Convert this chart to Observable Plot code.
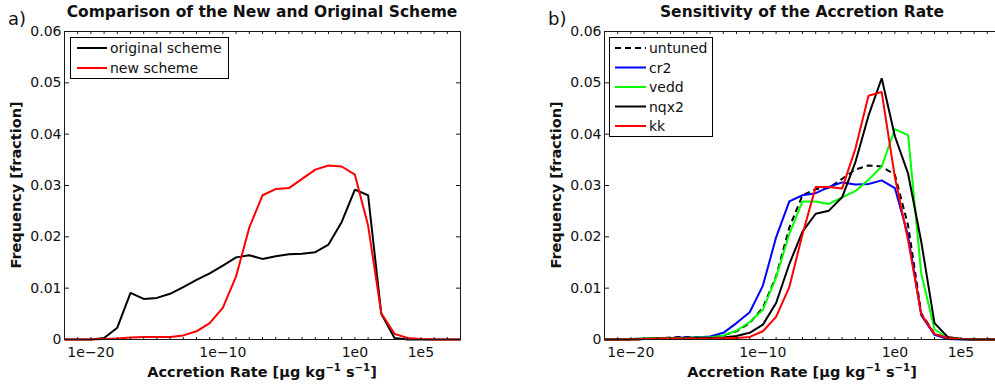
<!DOCTYPE html>
<html>
<head>
<meta charset="utf-8">
<script src="https://cdn.jsdelivr.net/npm/d3@7"></script>
<script src="https://cdn.jsdelivr.net/npm/@observablehq/plot@0.6"></script>
<style>
html, body { margin: 0; padding: 0; overflow: hidden; background: #fff; width: 995px; height: 387px; }
#root { position: relative; width: 995px; height: 387px; overflow: hidden; font-family: "DejaVu Sans", sans-serif; color: #111; }
.panel { position: absolute; top: 0; height: 387px; }
.txt { position: absolute; left: 0; top: 0; white-space: nowrap; line-height: 1; transform-origin: 0 0; }
.bold { font-weight: bold; }
sup { font-size: 70%; vertical-align: 0; position: relative; top: -0.55em; line-height: 0; }
</style>
</head>
<body>
<div id="root"></div>
<script>
// ---- data ----
const decades = [-22, -21, -20, -19, -18, -17, -16, -15, -14, -13, -12, -11, -10, -9, -8, -7, -6, -5, -4, -3, -2, -1, 0, 1, 2, 3, 4, 5, 6, 7, 8];

const originalScheme = [0, 0, 0, 0.0003, 0.0023, 0.0091, 0.0079, 0.0081, 0.0089, 0.0102, 0.0116, 0.0129, 0.0144, 0.0160, 0.0164, 0.0157, 0.0162, 0.0166, 0.0167, 0.0170, 0.0185, 0.0229, 0.0292, 0.0281, 0.0050, 0.0003, 0, 0, 0, 0, 0];
const newScheme = [0, 0, 0, 0.0001, 0.0002, 0.0004, 0.0005, 0.0005, 0.0005, 0.0008, 0.0016, 0.0032, 0.0062, 0.0123, 0.0218, 0.0281, 0.0293, 0.0295, 0.0313, 0.0331, 0.0339, 0.0337, 0.0321, 0.0222, 0.0051, 0.0011, 0.0003, 0.0001, 0, 0, 0];

const untuned = [0, 0, 0, 0.0001, 0.0002, 0.0004, 0.0005, 0.0005, 0.0005, 0.0008, 0.0016, 0.0032, 0.0062, 0.0123, 0.0218, 0.0281, 0.0293, 0.0295, 0.0313, 0.0331, 0.0339, 0.0337, 0.0321, 0.0222, 0.0051, 0.0011, 0.0003, 0.0001, 0, 0, 0];
const cr2 = [0, 0, 0.0001, 0.0002, 0.0003, 0.0003, 0.0004, 0.0004, 0.0006, 0.0013, 0.0032, 0.0053, 0.0105, 0.0199, 0.0269, 0.0281, 0.0285, 0.0297, 0.0306, 0.0302, 0.0303, 0.0310, 0.0295, 0.0202, 0.0047, 0.0009, 0.0001, 0, 0, 0, 0];
const vedd = [0, 0, 0.0001, 0.0002, 0.0003, 0.0003, 0.0003, 0.0004, 0.0004, 0.0008, 0.0017, 0.0034, 0.0058, 0.0121, 0.0206, 0.0269, 0.0269, 0.0264, 0.0277, 0.0289, 0.0311, 0.0337, 0.0410, 0.0398, 0.0128, 0.0020, 0.0003, 0.0001, 0, 0, 0];
const nqx2 = [0, 0, 0, 0.0001, 0.0002, 0.0002, 0.0002, 0.0003, 0.0003, 0.0004, 0.0007, 0.0013, 0.0029, 0.0071, 0.0147, 0.0210, 0.0245, 0.0251, 0.0277, 0.0345, 0.0436, 0.0509, 0.0396, 0.0323, 0.0190, 0.0032, 0.0005, 0.0001, 0, 0, 0];
const kk = [0, 0, 0, 0.0001, 0.0002, 0.0002, 0.0002, 0.0002, 0.0002, 0.0003, 0.0003, 0.0005, 0.0016, 0.0044, 0.0102, 0.0205, 0.0297, 0.0297, 0.0294, 0.0371, 0.0475, 0.0482, 0.0316, 0.0193, 0.0049, 0.0011, 0.0003, 0.0001, 0, 0, 0];

const xTickValues = [1e-20, 1e-10, 1e0, 1e5];
const xTickLabels = ["1e\u221220", "1e\u221210", "1e0", "1e5"];
const yTickValues = [0, 0.01, 0.02, 0.03, 0.04, 0.05, 0.06];
const yTickLabels = ["0", "0.01", "0.02", "0.03", "0.04", "0.05", "0.06"];

const panelA = {
  letter: "a)",
  title: "Comparison of the New and Original Scheme",
  series: [
    {name: "original scheme", values: originalScheme, color: "#000000", dash: null},
    {name: "new scheme", values: newScheme, color: "#ff0000", dash: null}
  ]
};
const panelB = {
  letter: "b)",
  title: "Sensitivity of the Accretion Rate",
  series: [
    {name: "untuned", values: untuned, color: "#000000", dash: "6,4"},
    {name: "cr2", values: cr2, color: "#0000ff", dash: null},
    {name: "vedd", values: vedd, color: "#00ff00", dash: null},
    {name: "nqx2", values: nqx2, color: "#000000", dash: null},
    {name: "kk", values: kk, color: "#ff0000", dash: null}
  ]
};

const xLabelHTML = "Accretion Rate [\u03bcg kg<sup>\u22121</sup> s<sup>\u22121</sup>]";
const yLabelText = "Frequency [fraction]";

// ---- drawing ----
const root = document.getElementById("root");
const decadeTicks = decades.map(e => Math.pow(10, e));
const axisStroke = "#1a1a1a";

function makePlot(panel, width, marginLeft, marginRight) {
  const marks = panel.series.map(s =>
    Plot.line(decades.map((e, i) => ({x: Math.pow(10, e), y: s.values[i]})), {
      x: "x", y: "y", stroke: s.color, strokeWidth: 2,
      strokeDasharray: s.dash || undefined, strokeLinejoin: "miter", strokeLinecap: "butt"
    })
  );
  const blank = () => "";
  return Plot.plot({
    width, height: 387,
    marginLeft, marginRight, marginTop: 31, marginBottom: 48,
    style: {fontFamily: "'DejaVu Sans', sans-serif", fontSize: "14px", color: "#111", background: "transparent", overflow: "visible"},
    x: {type: "log", domain: [1e-22, 1e8]},
    y: {domain: [0, 0.06]},
    marks: [
      ...marks,
      Plot.frame({stroke: axisStroke, strokeWidth: 1}),
      // tick labels
      Plot.axisX({anchor: "bottom", ticks: xTickValues, tickFormat: d => xTickLabels[xTickValues.indexOf(d)], tickSize: 0, tickPadding: 8, label: null}),
      Plot.axisY({anchor: "left", ticks: yTickValues, tickFormat: d => yTickLabels[yTickValues.indexOf(d)], tickSize: 0, tickPadding: 3, label: null}),
      // inward ticks (drawn toward the inside of the frame)
      Plot.axisX({anchor: "top", frameAnchor: "bottom", ticks: decadeTicks, tickFormat: blank, tickSize: 3, label: null, stroke: axisStroke}),
      Plot.axisX({anchor: "bottom", frameAnchor: "top", ticks: decadeTicks, tickFormat: blank, tickSize: 3, label: null, stroke: axisStroke}),
      Plot.axisY({anchor: "right", frameAnchor: "left", ticks: yTickValues, tickFormat: blank, tickSize: 4, label: null, stroke: axisStroke}),
      Plot.axisY({anchor: "left", frameAnchor: "right", ticks: yTickValues, tickFormat: blank, tickSize: 4, label: null, stroke: axisStroke})
    ]
  });
}

function addText(parent, html, cls, transform, size) {
  const d = document.createElement("div");
  d.className = "txt " + cls;
  d.style.fontSize = size + "px";
  d.style.transform = transform;
  d.innerHTML = html;
  parent.appendChild(d);
  return d;
}

function addLegend(parent, panel, box, rows, lineX0, lineX1, textX) {
  const svg = d3.select(parent).append("svg")
    .style("position", "absolute").style("left", box.x + "px").style("top", box.y + "px")
    .attr("width", box.w + 1).attr("height", box.h + 1);
  svg.append("rect").attr("x", 0.5).attr("y", 0.5).attr("width", box.w).attr("height", box.h)
    .attr("fill", "#fff").attr("stroke", "#000").attr("stroke-width", 1);
  panel.series.forEach((s, i) => {
    const y = rows[i];
    svg.append("line").attr("x1", lineX0).attr("x2", lineX1).attr("y1", y).attr("y2", y)
      .attr("stroke", s.color).attr("stroke-width", 2).attr("stroke-dasharray", s.dash || null);
    svg.append("text").attr("x", textX).attr("y", y + 5).text(s.name)
      .attr("font-family", "'DejaVu Sans', sans-serif").attr("font-size", 14).attr("fill", "#111");
  });
}

function buildPanel(panel, left, width, marginLeft, marginRight, legendBox, rows, lx0, lx1, tx) {
  const div = document.createElement("div");
  div.className = "panel";
  div.style.left = left + "px";
  div.style.width = width + "px";
  root.appendChild(div);
  div.appendChild(makePlot(panel, width, marginLeft, marginRight));
  const cx = marginLeft + 396 / 2;
  addText(div, panel.title, "bold", `translate(${cx}px, 18px) translate(-50%, -0.846em)`, 15.5);
  addText(div, panel.letter, "", `translate(${marginLeft - 56}px, 25px) translate(0, -0.846em)`, 18);
  addText(div, xLabelHTML, "bold", `translate(${cx}px, 377px) translate(-50%, -0.846em)`, 14.5);
  addText(div, yLabelText, "bold", `translate(${marginLeft - 43}px, 185px) rotate(-90deg) translate(-50%, -0.846em)`, 14.5);
  addLegend(div, panel, legendBox, rows, lx0, lx1, tx);
}

buildPanel(panelA, 0, 480, 64, 20, {x: 70, y: 37, w: 158, h: 41}, [11, 31], 7, 37, 40);
buildPanel(panelB, 500, 500, 104, 0, {x: 109, y: 37, w: 103, h: 99}, [11, 30.5, 50, 69.5, 89], 6, 37, 40);
</script>
</body>
</html>
